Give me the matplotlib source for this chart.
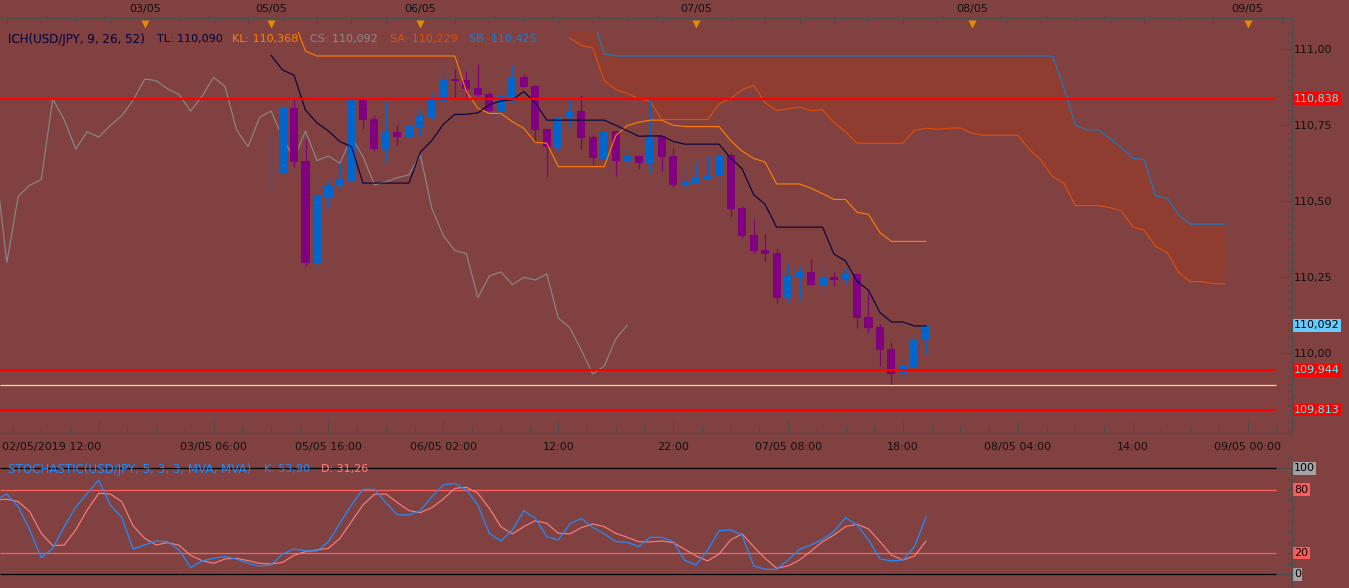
import matplotlib
matplotlib.use("Agg")
import matplotlib.pyplot as plt
import numpy as np
from matplotlib.transforms import blended_transform_factory
from matplotlib.ticker import FixedLocator, MultipleLocator, FuncFormatter, NullLocator, NullFormatter

plt.rcParams['font.family'] = ['DejaVu Sans']

# ---------------- data (hourly USD/JPY bars, index 0 = first drawn candle) ----------------
opens = [110.595, 110.594, 110.808, 110.633, 110.298, 110.515, 110.551, 110.568, 110.833, 110.771,
         110.672, 110.729, 110.711, 110.745, 110.778, 110.831, 110.902, 110.899, 110.874, 110.853,
         110.797, 110.844, 110.908, 110.879, 110.738, 110.680, 110.775, 110.797, 110.711, 110.639,
         110.731, 110.634, 110.649, 110.625, 110.715, 110.649, 110.554, 110.561, 110.573, 110.584,
         110.652, 110.477, 110.389, 110.340, 110.329, 110.183, 110.252, 110.267, 110.226, 110.251,
         110.241, 110.261, 110.118, 110.086, 110.013, 109.934, 109.954, 110.045]
highs = [110.724, 110.810, 110.837, 110.704, 110.539, 110.570, 110.625, 110.840, 110.844, 110.784,
         110.830, 110.751, 110.751, 110.800, 110.855, 110.941, 110.935, 110.929, 110.952, 110.861,
         110.855, 110.948, 110.919, 110.883, 110.738, 110.776, 110.836, 110.846, 110.718, 110.731,
         110.731, 110.678, 110.649, 110.836, 110.715, 110.674, 110.625, 110.630, 110.652, 110.665,
         110.663, 110.485, 110.442, 110.392, 110.345, 110.294, 110.287, 110.309, 110.283, 110.266,
         110.282, 110.261, 110.201, 110.095, 110.036, 109.981, 110.051, 110.091]
lows = [110.523, 110.592, 110.614, 110.288, 110.276, 110.479, 110.545, 110.567, 110.738, 110.665,
        110.630, 110.685, 110.708, 110.716, 110.770, 110.822, 110.842, 110.842, 110.846, 110.795,
        110.770, 110.822, 110.877, 110.696, 110.581, 110.666, 110.742, 110.672, 110.623, 110.639,
        110.584, 110.612, 110.605, 110.592, 110.601, 110.548, 110.539, 110.560, 110.573, 110.545,
        110.447, 110.378, 110.329, 110.305, 110.166, 110.170, 110.175, 110.226, 110.206, 110.222,
        110.228, 110.082, 110.068, 109.958, 109.896, 109.914, 109.954, 110.000]
closes = [110.597, 110.808, 110.630, 110.298, 110.517, 110.553, 110.571, 110.837, 110.768, 110.672,
          110.729, 110.711, 110.749, 110.781, 110.833, 110.902, 110.897, 110.870, 110.851, 110.797,
          110.846, 110.908, 110.877, 110.735, 110.680, 110.776, 110.797, 110.709, 110.641, 110.731,
          110.634, 110.649, 110.625, 110.711, 110.647, 110.554, 110.564, 110.578, 110.587, 110.652,
          110.476, 110.387, 110.338, 110.328, 110.183, 110.254, 110.268, 110.226, 110.250, 110.241,
          110.261, 110.116, 110.084, 110.011, 109.932, 109.958, 110.047, 110.092]

tenkan = [110.980, 110.932, 110.915, 110.800, 110.758, 110.731, 110.696, 110.680, 110.560, 110.560,
          110.560, 110.560, 110.560, 110.662, 110.700, 110.754, 110.786, 110.786, 110.791, 110.818,
          110.830, 110.834, 110.861, 110.824, 110.767, 110.767, 110.767, 110.767, 110.767, 110.767,
          110.750, 110.732, 110.714, 110.715, 110.715, 110.697, 110.688, 110.688, 110.688, 110.688,
          110.642, 110.607, 110.522, 110.490, 110.415, 110.415, 110.415, 110.415, 110.415, 110.326,
          110.304, 110.237, 110.207, 110.134, 110.103, 110.103, 110.090, 110.090]
kijun = [111.093, 111.093, 111.093, 110.994, 110.978, 110.978, 110.978, 110.978, 110.978, 110.978,
         110.978, 110.978, 110.978, 110.978, 110.978, 110.978, 110.978, 110.861, 110.806, 110.789,
         110.789, 110.762, 110.740, 110.694, 110.691, 110.614, 110.614, 110.614, 110.614, 110.614,
         110.716, 110.749, 110.760, 110.767, 110.767, 110.750, 110.746, 110.746, 110.746, 110.746,
         110.700, 110.665, 110.641, 110.629, 110.557, 110.557, 110.557, 110.543, 110.525, 110.506,
         110.506, 110.464, 110.457, 110.397, 110.368, 110.368, 110.368, 110.368]
# senkou spans, drawn 26 bars ahead of the bar they belong to
senkou_a = [111.037, 111.013, 111.004, 110.897, 110.868, 110.855, 110.837, 110.829, 110.769, 110.769,
            110.769, 110.769, 110.769, 110.820, 110.839, 110.866, 110.882, 110.824, 110.799, 110.804,
            110.810, 110.798, 110.801, 110.759, 110.729, 110.691, 110.691, 110.691, 110.691, 110.691,
            110.733, 110.741, 110.737, 110.741, 110.741, 110.724, 110.717, 110.717, 110.717, 110.717,
            110.671, 110.636, 110.582, 110.560, 110.486, 110.486, 110.486, 110.479, 110.470, 110.416,
            110.405, 110.351, 110.332, 110.266, 110.236, 110.236, 110.229, 110.229]
senkou_b = [111.101, 111.101, 111.101, 110.985] + [110.978] * 39 + \
           [110.873, 110.751, 110.735, 110.735, 110.707, 110.677, 110.642, 110.636, 110.517, 110.510,
            110.455, 110.425, 110.425, 110.425, 110.425]
KUMO_SHIFT = 26
CHIKOU_SHIFT = 26

# stochastic (5,3,3), first value at bar index -24
stoch_start = -24
stoch_k = [69.5, 75.8, 63.8, 41.8, 15.7, 24.5, 45.0, 63.2, 76.4, 89.0,
           65.4, 53.8, 23.9, 27.7, 31.4, 30.8, 23.0, 6.3, 12.6, 15.1,
           16.7, 14.2, 10.4, 7.9, 8.8, 19.2, 23.9, 22.0, 22.0, 30.8,
           48.1, 65.4, 80.2, 80.2, 67.6, 56.0, 56.0, 60.1, 73.3, 84.3,
           85.8, 79.6, 65.4, 38.7, 31.4, 41.8, 60.1, 52.8, 35.5, 32.4,
           47.5, 52.8, 44.3, 38.1, 30.8, 30.2, 26.1, 34.9, 34.9, 30.8,
           13.2, 8.8, 23.0, 41.2, 41.8, 37.1, 7.9, 4.7, 4.7, 13.5,
           23.6, 27.7, 33.0, 40.3, 53.5, 46.5, 32.4, 14.5, 12.6, 13.5,
           26.1, 53.90]
stoch_d = [70.1, 70.8, 68.6, 59.1, 38.7, 27.0, 27.7, 41.8, 60.7, 76.4,
           75.8, 68.6, 45.6, 34.0, 27.7, 29.9, 27.4, 17.9, 12.9, 10.4,
           14.5, 15.1, 12.9, 10.4, 9.7, 11.3, 17.9, 21.4, 23.0, 24.5,
           34.0, 49.7, 65.4, 75.5, 75.8, 67.6, 60.1, 58.2, 62.9, 71.1,
           81.1, 82.1, 76.4, 62.3, 45.0, 38.1, 45.0, 50.6, 48.1, 38.7,
           38.1, 44.0, 47.5, 45.0, 38.7, 34.9, 30.8, 30.5, 31.4, 29.9,
           23.6, 17.3, 12.6, 19.2, 32.4, 38.1, 26.1, 15.1, 5.7, 7.9,
           13.5, 22.0, 30.8, 37.1, 45.0, 47.2, 42.8, 30.8, 18.2, 13.5,
           17.3, 31.26]
stoch_levels = [80, 20]
stoch_bounds = [100, 0]

red_levels = [110.838, 109.944, 109.813]
low_level = 109.896

y_major = [110.00, 110.25, 110.50, 110.75, 111.00]
day_pos = [-11, 0, 13, 37, 61, 85]
day_labels = ['03/05', '05/05', '06/05', '07/05', '08/05', '09/05']
time_pos = [-5, 5, 15, 25, 35, 45, 55, 65, 75, 85]
time_labels = ['03/05 06:00', '05/05 16:00', '06/05 02:00', '12:00', '22:00',
               '07/05 08:00', '18:00', '08/05 04:00', '14:00', '09/05 00:00']
first_time_label = '02/05/2019 12:00'

# ---------------- style ----------------
BG = '#814141'
FRAME = '#4d4d4d'
TXT = '#111111'
UP = '#0066cc'
DOWN = '#800080'
W, H = 1349, 588
XL = (-23.59, 88.86)
LINE_END = 87.47

def fy(py):
    return 1 - py / H

fig = plt.figure(figsize=(W / 100, H / 100), dpi=100, facecolor=BG)

# ---------------- main price panel ----------------
ax = fig.add_axes([0, fy(433), 1292 / W, (433 - 31.7) / H])
ax.set_facecolor(BG)
ax.set_xlim(*XL)
ax.set_ylim(109.7378, 111.0579)
for s in ax.spines.values():
    s.set_visible(False)

n = len(closes)
idx = np.arange(n)
kx = np.arange(len(senkou_a)) + KUMO_SHIFT
ax.fill_between(kx, senkou_a, senkou_b, color='#8f3c31', lw=0, zorder=1)
ax.plot(kx, senkou_a, color='#e0500a', lw=0.8, zorder=2)
ax.plot(kx, senkou_b, color='#1580c8', lw=0.8, zorder=2)
ax.plot(idx - CHIKOU_SHIFT, closes, color='#8a8a8a', lw=0.8, zorder=2)

for i, (o, h, l, c) in enumerate(zip(opens, highs, lows, closes)):
    col = UP if c >= o else DOWN
    ax.vlines(i, l, h, color=col, lw=0.9, zorder=3)
    ax.bar(i, max(abs(c - o), 0.005), bottom=min(o, c), width=0.7, color=col, lw=0, zorder=4)

ax.plot(idx, kijun, color='#ff8000', lw=0.8, zorder=5)
ax.plot(idx, tenkan, color='#000040', lw=0.8, zorder=5)

ax.hlines(red_levels, XL[0], LINE_END, color='#ff0000', lw=1.5, zorder=6)
ax.hlines(low_level, XL[0], LINE_END, color='#ffe566', lw=0.9, zorder=6)

ax.yaxis.tick_right()
ax.yaxis.set_major_locator(FixedLocator(y_major))
ax.yaxis.set_minor_locator(MultipleLocator(0.025))
ax.yaxis.set_major_formatter(FuncFormatter(lambda v, p: f"{v:.2f}".replace('.', ',')))
ax.tick_params(axis='y', which='major', direction='in', length=10, width=0.8, color=FRAME,
               labelsize=8, labelcolor=TXT, pad=1.5)
ax.tick_params(axis='y', which='minor', direction='in', length=3.6, width=0.8, color=FRAME)
ax.xaxis.set_major_locator(FixedLocator([-15] + time_pos))
ax.xaxis.set_major_formatter(NullFormatter())
ax.xaxis.set_minor_locator(MultipleLocator(2.5))
ax.tick_params(axis='x', which='major', direction='in', length=8.6, width=0.8, color=FRAME)
ax.tick_params(axis='x', which='minor', direction='in', length=5, width=0.8, color=FRAME)

ytr = ax.get_yaxis_transform()
for lv in red_levels:
    ax.text(1.0016, lv, f"{lv:.3f}".replace('.', ','), transform=ytr, ha='left', va='center',
            fontsize=8, color='#40ffff', clip_on=False, zorder=10,
            bbox=dict(boxstyle='square,pad=0.12', fc='#ff0000', ec='none'))
ax.text(1.0016, closes[-1], f"{closes[-1]:.3f}".replace('.', ','), transform=ytr, ha='left',
        va='center', fontsize=8, color='#000000', clip_on=False, zorder=10,
        bbox=dict(boxstyle='square,pad=0.12', fc='#66ccff', ec='none'))

# ---------------- stochastic panel ----------------
ax2 = fig.add_axes([0, 0, 1292 / W, (588 - 457) / H])
ax2.set_facecolor(BG)
ax2.set_xlim(*XL)
ax2.set_ylim(-12.92, 110.66)
for s in ax2.spines.values():
    s.set_visible(False)
ax2.hlines(stoch_bounds, XL[0], LINE_END, color='#000000', lw=0.9)
ax2.hlines(stoch_levels, XL[0], LINE_END, color='#ff6060', lw=0.9)
sx = np.arange(len(stoch_k)) + stoch_start
ax2.plot(sx, stoch_d, color='#ff8080', lw=0.8)
ax2.plot(sx, stoch_k, color='#1e8cff', lw=0.9)
ax2.xaxis.set_major_locator(NullLocator())
ax2.yaxis.tick_right()
ax2.yaxis.set_major_locator(FixedLocator(stoch_bounds))
ax2.yaxis.set_minor_locator(MultipleLocator(10))
ax2.yaxis.set_major_formatter(NullFormatter())
ax2.tick_params(axis='y', which='major', direction='in', length=10.8, width=0.8, color=FRAME)
ax2.tick_params(axis='y', which='minor', direction='in', length=4.3, width=0.8, color=FRAME)
ytr2 = ax2.get_yaxis_transform()
for lv, fc in [(100, '#a3a3a3'), (80, '#ff5a5a'), (20, '#ff5a5a'), (0, '#a3a3a3')]:
    ax2.text(1.0016, lv, f"{lv}", transform=ytr2, ha='left', va='center', fontsize=8,
             color='#000000', clip_on=False,
             bbox=dict(boxstyle='square,pad=0.12', fc=fc, ec='none'))

# ---------------- overlay: frame, time axis decorations, legends ----------------
ov = fig.add_axes([0, 0, 1, 1])
ov.set_xlim(0, W)
ov.set_ylim(H, 0)
ov.axis('off')
ov.patch.set_alpha(0)
ov.hlines(18, 0, 1292, color=FRAME, lw=0.9)
ov.vlines(1292, 18, 433, color=FRAME, lw=0.9)
ov.hlines(433, 0, 1292, color=FRAME, lw=0.9)
ov.vlines(1292, 461, 588, color=FRAME, lw=0.9)

bt = blended_transform_factory(ax.transData, ov.transData)
ov.vlines(np.arange(-23, 89, 3), 18, 23.5, color=FRAME, lw=0.8, transform=bt)
ov.plot(day_pos, [23.5] * len(day_pos), 'v', ms=6.3, color='#e68a00', mec='none', transform=bt)
for p, lab in zip(day_pos, day_labels):
    ov.text(p, 9, lab, transform=bt, ha='center', va='center', fontsize=8, color=TXT)
for p, lab in zip(time_pos, time_labels):
    ov.text(p, 447, lab, transform=bt, ha='center', va='center', fontsize=8, color=TXT)
ov.text(2, 447, first_time_label, ha='left', va='center', fontsize=8, color=TXT)

fmt = lambda v: f"{v:.3f}".replace('.', ',')
legend_main = [
    (8, "ICH(USD/JPY, 9, 26, 52)", '#000040', 8.6),
    (157, "TL: " + fmt(tenkan[-1]), '#000040', 8),
    (232, "KL: " + fmt(kijun[-1]), '#ff8000', 8),
    (310, "CS: " + fmt(closes[-1]), '#8c8c8c', 8),
    (390, "SA: " + fmt(senkou_a[-1]), '#e0500a', 8),
    (469, "SB: " + fmt(senkou_b[-1]), '#1a80d0', 8),
]
for x, s, c, fs in legend_main:
    ov.text(x, 39, s, ha='left', va='center', fontsize=fs, color=c)

legend_st = [
    (8, "STOCHASTIC(USD/JPY, 5, 3, 3, MVA, MVA)", '#1e8cff', 8.6),
    (264, "K: " + f"{stoch_k[-1]:.2f}".replace('.', ','), '#1e8cff', 8),
    (321, "D: " + f"{stoch_d[-1]:.2f}".replace('.', ','), '#ff8080', 8),
]
for x, s, c, fs in legend_st:
    ov.text(x, 469, s, ha='left', va='center', fontsize=fs, color=c)

fig.savefig('out.png', dpi=100, facecolor=BG)
